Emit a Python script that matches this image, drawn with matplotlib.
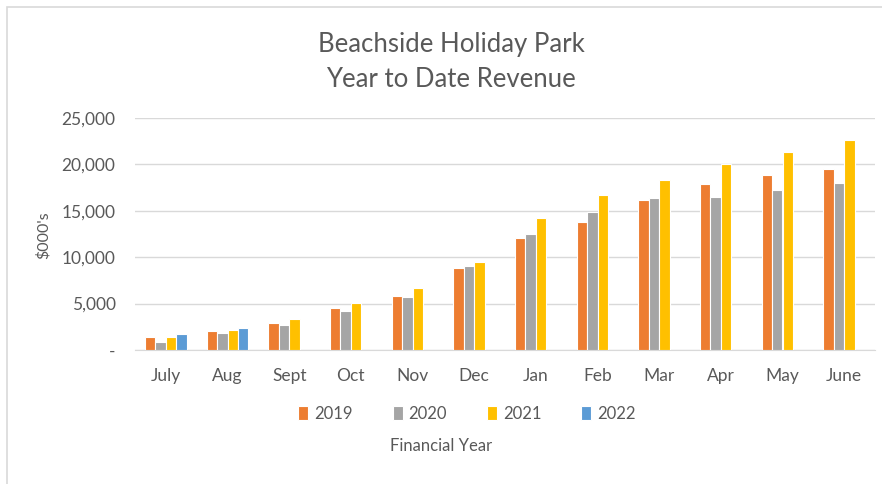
import numpy as np
import matplotlib
matplotlib.use("Agg")
import matplotlib.pyplot as plt
from matplotlib.patches import Rectangle
from matplotlib.ticker import FuncFormatter

plt.rcParams['font.family'] = ['Lato', 'DejaVu Sans']

# data ($000's, year to date)
months = ["July", "Aug", "Sept", "Oct", "Nov", "Dec", "Jan", "Feb", "Mar", "Apr", "May", "June"]
rev_2019 = [1370, 2050, 2870, 4490, 5850, 8830, 12030, 13830, 16160, 17850, 18820, 19500]
rev_2020 = [830, 1870, 2690, 4200, 5670, 9010, 12500, 14830, 16340, 16520, 17210, 18030]
rev_2021 = [1370, 2190, 3340, 5030, 6640, 9520, 14190, 16670, 18320, 20010, 21330, 22660]
rev_2022 = [1690, 2330]
years = ["2019", "2020", "2021", "2022"]
colors = ["#ED7D31", "#A5A5A5", "#FFC000", "#5B9BD5"]
txt = "#595959"

W, H = 882, 484
fig = plt.figure(figsize=(W / 100, H / 100), dpi=100)
fig.patch.set_facecolor("white")

# outer chart border (right/bottom cropped off in the reference)
fig.patches.append(Rectangle((7 / W, -0.1), 1.2, 1 - 7 / H + 0.1, transform=fig.transFigure,
                             fill=False, edgecolor="#D9D9D9", linewidth=1.2))

ax = fig.add_axes([135 / W, 1 - 350 / H, (875 - 135) / W, (350 - 118) / H])

x = np.arange(len(months))
w = 0.17
series = [rev_2019, rev_2020, rev_2021, rev_2022]
handles = []
for i, vals in enumerate(series):
    xi = x[:len(vals)] + (i - 1.5) * w
    b = ax.bar(xi, vals, width=w, color=colors[i], edgecolor="white", linewidth=0.8, zorder=3)
    handles.append(b)

ax.set_xlim(-0.5, len(months) - 0.5)
ax.set_ylim(0, 25000)
ax.set_yticks(np.arange(0, 25001, 5000))
ax.yaxis.set_major_formatter(FuncFormatter(lambda v, p: "-" if v == 0 else f"{int(v):,}"))
ax.set_xticks(x)
ax.set_xticklabels(months)
ax.grid(axis="y", color="#D9D9D9", linewidth=1, zorder=0)
for s in ["top", "right", "left"]:
    ax.spines[s].set_visible(False)
ax.spines["bottom"].set_color("#D9D9D9")
ax.tick_params(axis="both", length=0, colors=txt, labelsize=12.5)
ax.tick_params(axis="y", pad=14)
ax.tick_params(axis="x", pad=13)

fig.text(451 / W, 1 - 52 / H, "Beachside Holiday Park", ha="center", va="baseline",
         fontsize=18.5, color=txt)
fig.text(451 / W, 1 - 87 / H, "Year to Date Revenue", ha="center", va="baseline",
         fontsize=18.5, color=txt)
fig.text(43 / W, 1 - 235 / H, "$000's", rotation=90, ha="center", va="center",
         fontsize=11.5, color=txt)
fig.text(441 / W, 1 - 446 / H, "Financial Year", ha="center", va="center",
         fontsize=12, color=txt)

leg = fig.legend(handles, years, loc="center", bbox_to_anchor=(467 / W, 1 - 414 / H), ncol=4,
                 frameon=False, fontsize=12, handlelength=0.6, handleheight=0.9,
                 handletextpad=0.35, columnspacing=2.4, labelcolor=txt)

fig.savefig("out.png", dpi=100)
